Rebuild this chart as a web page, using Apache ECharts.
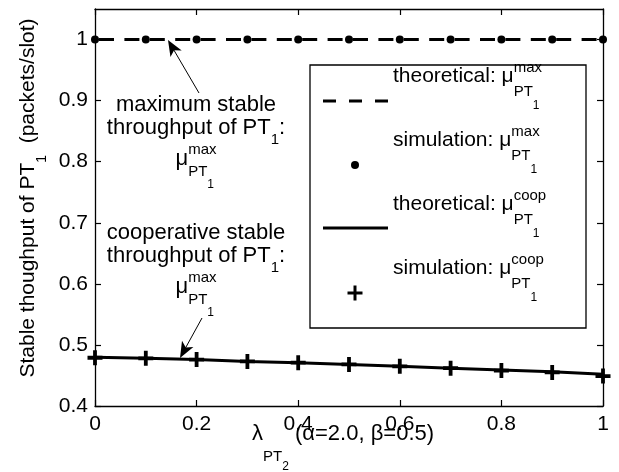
<!DOCTYPE html>
<html>
<head>
<meta charset="utf-8">
<script src="https://cdn.jsdelivr.net/npm/echarts@6/dist/echarts.min.js"></script>
<style>
  html, body { margin: 0; padding: 0; background: #fff; }
  #chart { width: 619px; height: 472px; }
</style>
</head>
<body>
<div id="chart"></div>
<script>
// Arrival rate of PT2 (x) and stable throughput of PT1 (y)
const lambdaPT2    = [0, 0.1, 0.2, 0.3, 0.4, 0.5, 0.6, 0.7, 0.8, 0.9, 1];
const muMaxTheory  = [1, 1, 1, 1, 1, 1, 1, 1, 1, 1, 1];
const muMaxSim     = [1, 1, 1, 1, 1, 1, 1, 1, 1, 1, 1];
const muCoopTheory = [0.480, 0.478, 0.476, 0.473, 0.471, 0.468, 0.465, 0.462, 0.459, 0.456, 0.452];
const muCoopSim    = [0.479, 0.478, 0.476, 0.473, 0.471, 0.468, 0.465, 0.462, 0.458, 0.455, 0.449];
const xTicks = [0, 0.2, 0.4, 0.6, 0.8, 1];
const yTicks = [0.4, 0.5, 0.6, 0.7, 0.8, 0.9, 1];

const FONT = '"Liberation Sans", Arial, Helvetica, sans-serif';
const PLUS = 'path://M5.6,0L9.4,0L9.4,5.6L15,5.6L15,9.4L9.4,9.4L9.4,15L5.6,15L5.6,9.4L0,9.4L0,5.6L5.6,5.6Z';

const pairs = ys => lambdaPT2.map((x, i) => [x, ys[i]]);

// --- text with super/subscripts built from measured pieces ---
const measureCtx = document.createElement('canvas').getContext('2d');
function textWidth(t, s) {
  measureCtx.font = s + 'px ' + FONT;
  return measureCtx.measureText(t).width;
}
// token: {t, s, dy, stack}; stack = start at the previous token's start
function layout(tokens) {
  let cursor = 0, prevStart = 0, width = 0;
  const items = tokens.map(tok => {
    const w = textWidth(tok.t, tok.s);
    const start = tok.stack ? prevStart : cursor;
    prevStart = start;
    cursor = start + w;
    width = Math.max(width, cursor);
    return { t: tok.t, s: tok.s, dy: tok.dy || 0, x: start };
  });
  return { items, width };
}
function mathText(tokens, ox, baseline, anchor) {
  const L = layout(tokens);
  const x0 = anchor === 'center' ? ox - L.width / 2 : ox;
  return L.items.map(it => ({
    type: 'text',
    z: 30,
    x: x0 + it.x,
    y: baseline + it.dy - 0.3465 * it.s,
    style: {
      text: it.t,
      font: it.s + 'px ' + FONT,
      fill: '#000',
      textAlign: 'left', align: 'left',
      textVerticalAlign: 'middle', verticalAlign: 'middle'
    }
  }));
}
function muTokens(prefix, sup, main, supS, subS, subsubS, off) {
  return [
    { t: prefix + 'μ', s: main },
    { t: sup, s: supS, dy: off[0] },
    { t: 'PT', s: subS, dy: off[1], stack: true },
    { t: '1', s: subsubS, dy: off[2] }
  ];
}

// --- arrow drawn as a shaft plus a notched head ---
function arrow(x1, y1, x2, y2) {
  const dx = x2 - x1, dy = y2 - y1, len = Math.hypot(dx, dy);
  const ux = dx / len, uy = dy / len, nx = -uy, ny = ux;
  const hl = 16, hw = 6.5, notch = 4;
  const bx = x2 - ux * hl, by = y2 - uy * hl;
  return [
    { type: 'line', z: 30, shape: { x1, y1, x2: x2 - ux * 8, y2: y2 - uy * 8 },
      style: { stroke: '#000', lineWidth: 1 } },
    { type: 'polygon', z: 30,
      shape: { points: [[x2, y2], [bx + nx * hw, by + ny * hw],
                        [bx + ux * notch, by + uy * notch], [bx - nx * hw, by - ny * hw]] },
      style: { fill: '#000' } }
  ];
}

// --- legend box ---
const LEG_OFF = [-10, 14, 27];
const legB = [83, 147, 211, 275];
const legend = [
  { type: 'rect', z: 20, shape: { x: 310, y: 65, width: 276, height: 263 },
    style: { fill: '#fff', stroke: '#000', lineWidth: 1.3 } },
  { type: 'line', z: 30, shape: { x1: 323, y1: legB[0] + 18, x2: 388, y2: legB[0] + 18 },
    style: { stroke: '#000', lineWidth: 3, lineDash: [13, 13] } },
  { type: 'circle', z: 30, shape: { cx: 355, cy: legB[1] + 18, r: 4 }, style: { fill: '#000' } },
  { type: 'line', z: 30, shape: { x1: 323, y1: legB[2] + 17, x2: 388, y2: legB[2] + 17 },
    style: { stroke: '#000', lineWidth: 3 } },
  { type: 'rect', z: 30, shape: { x: 347.5, y: legB[3] + 16.5, width: 15, height: 3 }, style: { fill: '#000' } },
  { type: 'rect', z: 30, shape: { x: 353.5, y: legB[3] + 10.5, width: 3, height: 15 }, style: { fill: '#000' } },
  ...mathText(muTokens('theoretical: ', 'max', 21, 15, 15, 12, LEG_OFF), 393, legB[0], 'left'),
  ...mathText(muTokens('simulation: ', 'max', 21, 15, 15, 12, LEG_OFF), 393, legB[1], 'left'),
  ...mathText(muTokens('theoretical: ', 'coop', 21, 15, 15, 12, LEG_OFF), 393, legB[2], 'left'),
  ...mathText(muTokens('simulation: ', 'coop', 21, 15, 15, 12, LEG_OFF), 393, legB[3], 'left')
];

// --- annotations inside the plot ---
const ANN_OFF = [-12, 10, 22];
function annotation(firstLine, cx, b0) {
  return [
    ...mathText([{ t: firstLine, s: 22 }], cx, b0, 'center'),
    ...mathText([{ t: 'throughput of PT', s: 22 }, { t: '1', s: 15, dy: 9 }, { t: ':', s: 22 }], cx, b0 + 23, 'center'),
    ...mathText(muTokens('', 'max', 22, 15, 15, 12, ANN_OFF), cx, b0 + 54, 'center')
  ];
}

// --- axis titles ---
const xTitle = mathText([
  { t: 'λ', s: 22 }, { t: 'PT', s: 15, dy: 20 }, { t: '2', s: 12, dy: 29 },
  { t: ' (α=2.0, β=0.5)', s: 22 }
], 252, 442, 'left');
const yTitle = {
  type: 'group', x: 35, y: 198, rotation: Math.PI / 2,
  children: mathText([
    { t: 'Stable thoughput of PT', s: 21 }, { t: '1', s: 14, dy: 12 },
    { t: '  (packets/slot)', s: 21 }
  ], 0, 0, 'center')
};

const axisLineStyle = { color: '#000', width: 1.3 };
const tickStyle = { color: '#000', width: 1.2 };
const labelStyle = { color: '#000', fontSize: 21, fontFamily: FONT };

const option = {
  animation: false,
  backgroundColor: '#fff',
  grid: { left: 95, right: 16, top: 9, bottom: 66, containLabel: false },
  xAxis: [
    { type: 'value', position: 'bottom', min: 0, max: 1, interval: 0.2,
      axisLine: { show: true, onZero: false, lineStyle: axisLineStyle },
      axisTick: { show: true, inside: true, length: 6, lineStyle: tickStyle, customValues: xTicks },
      axisLabel: { ...labelStyle, margin: 8, customValues: xTicks },
      splitLine: { show: false } },
    { type: 'value', position: 'top', min: 0, max: 1, interval: 0.2,
      axisLine: { show: true, onZero: false, lineStyle: axisLineStyle },
      axisTick: { show: true, inside: true, length: 6, lineStyle: tickStyle, customValues: xTicks },
      axisLabel: { show: false },
      splitLine: { show: false } }
  ],
  yAxis: [
    { type: 'value', position: 'left', min: 0.4, max: 1.05, interval: 0.1,
      axisLine: { show: true, onZero: false, lineStyle: axisLineStyle },
      axisTick: { show: true, inside: true, length: 6, lineStyle: tickStyle, customValues: yTicks },
      axisLabel: { ...labelStyle, margin: 7, customValues: yTicks },
      splitLine: { show: false } },
    { type: 'value', position: 'right', min: 0.4, max: 1.05, interval: 0.1,
      axisLine: { show: true, onZero: false, lineStyle: axisLineStyle },
      axisTick: { show: true, inside: true, length: 6, lineStyle: tickStyle, customValues: yTicks },
      axisLabel: { show: false },
      splitLine: { show: false } }
  ],
  series: [
    { name: 'theoretical max', type: 'line', data: pairs(muMaxTheory), symbol: 'none',
      lineStyle: { color: '#000', width: 3, type: [15, 10.4], dashOffset: -4 }, z: 3 },
    { name: 'simulation max', type: 'scatter', data: pairs(muMaxSim), symbol: 'circle',
      symbolSize: 8, itemStyle: { color: '#000', opacity: 1 }, z: 4 },
    { name: 'theoretical coop', type: 'line', data: pairs(muCoopTheory), symbol: 'none',
      lineStyle: { color: '#000', width: 3 }, z: 3 },
    { name: 'simulation coop', type: 'scatter', data: pairs(muCoopSim), symbol: PLUS,
      symbolSize: 15, itemStyle: { color: '#000', opacity: 1 }, z: 4 }
  ],
  graphic: [
    ...legend,
    ...annotation('maximum stable', 196, 113),
    ...arrow(199, 93, 168, 40),
    ...annotation('cooperative stable', 196, 241),
    ...arrow(202, 318, 180, 358),
    ...xTitle,
    yTitle
  ]
};

const chart = echarts.init(document.getElementById('chart'), null, { renderer: 'canvas' });
chart.setOption(option);
</script>
</body>
</html>
